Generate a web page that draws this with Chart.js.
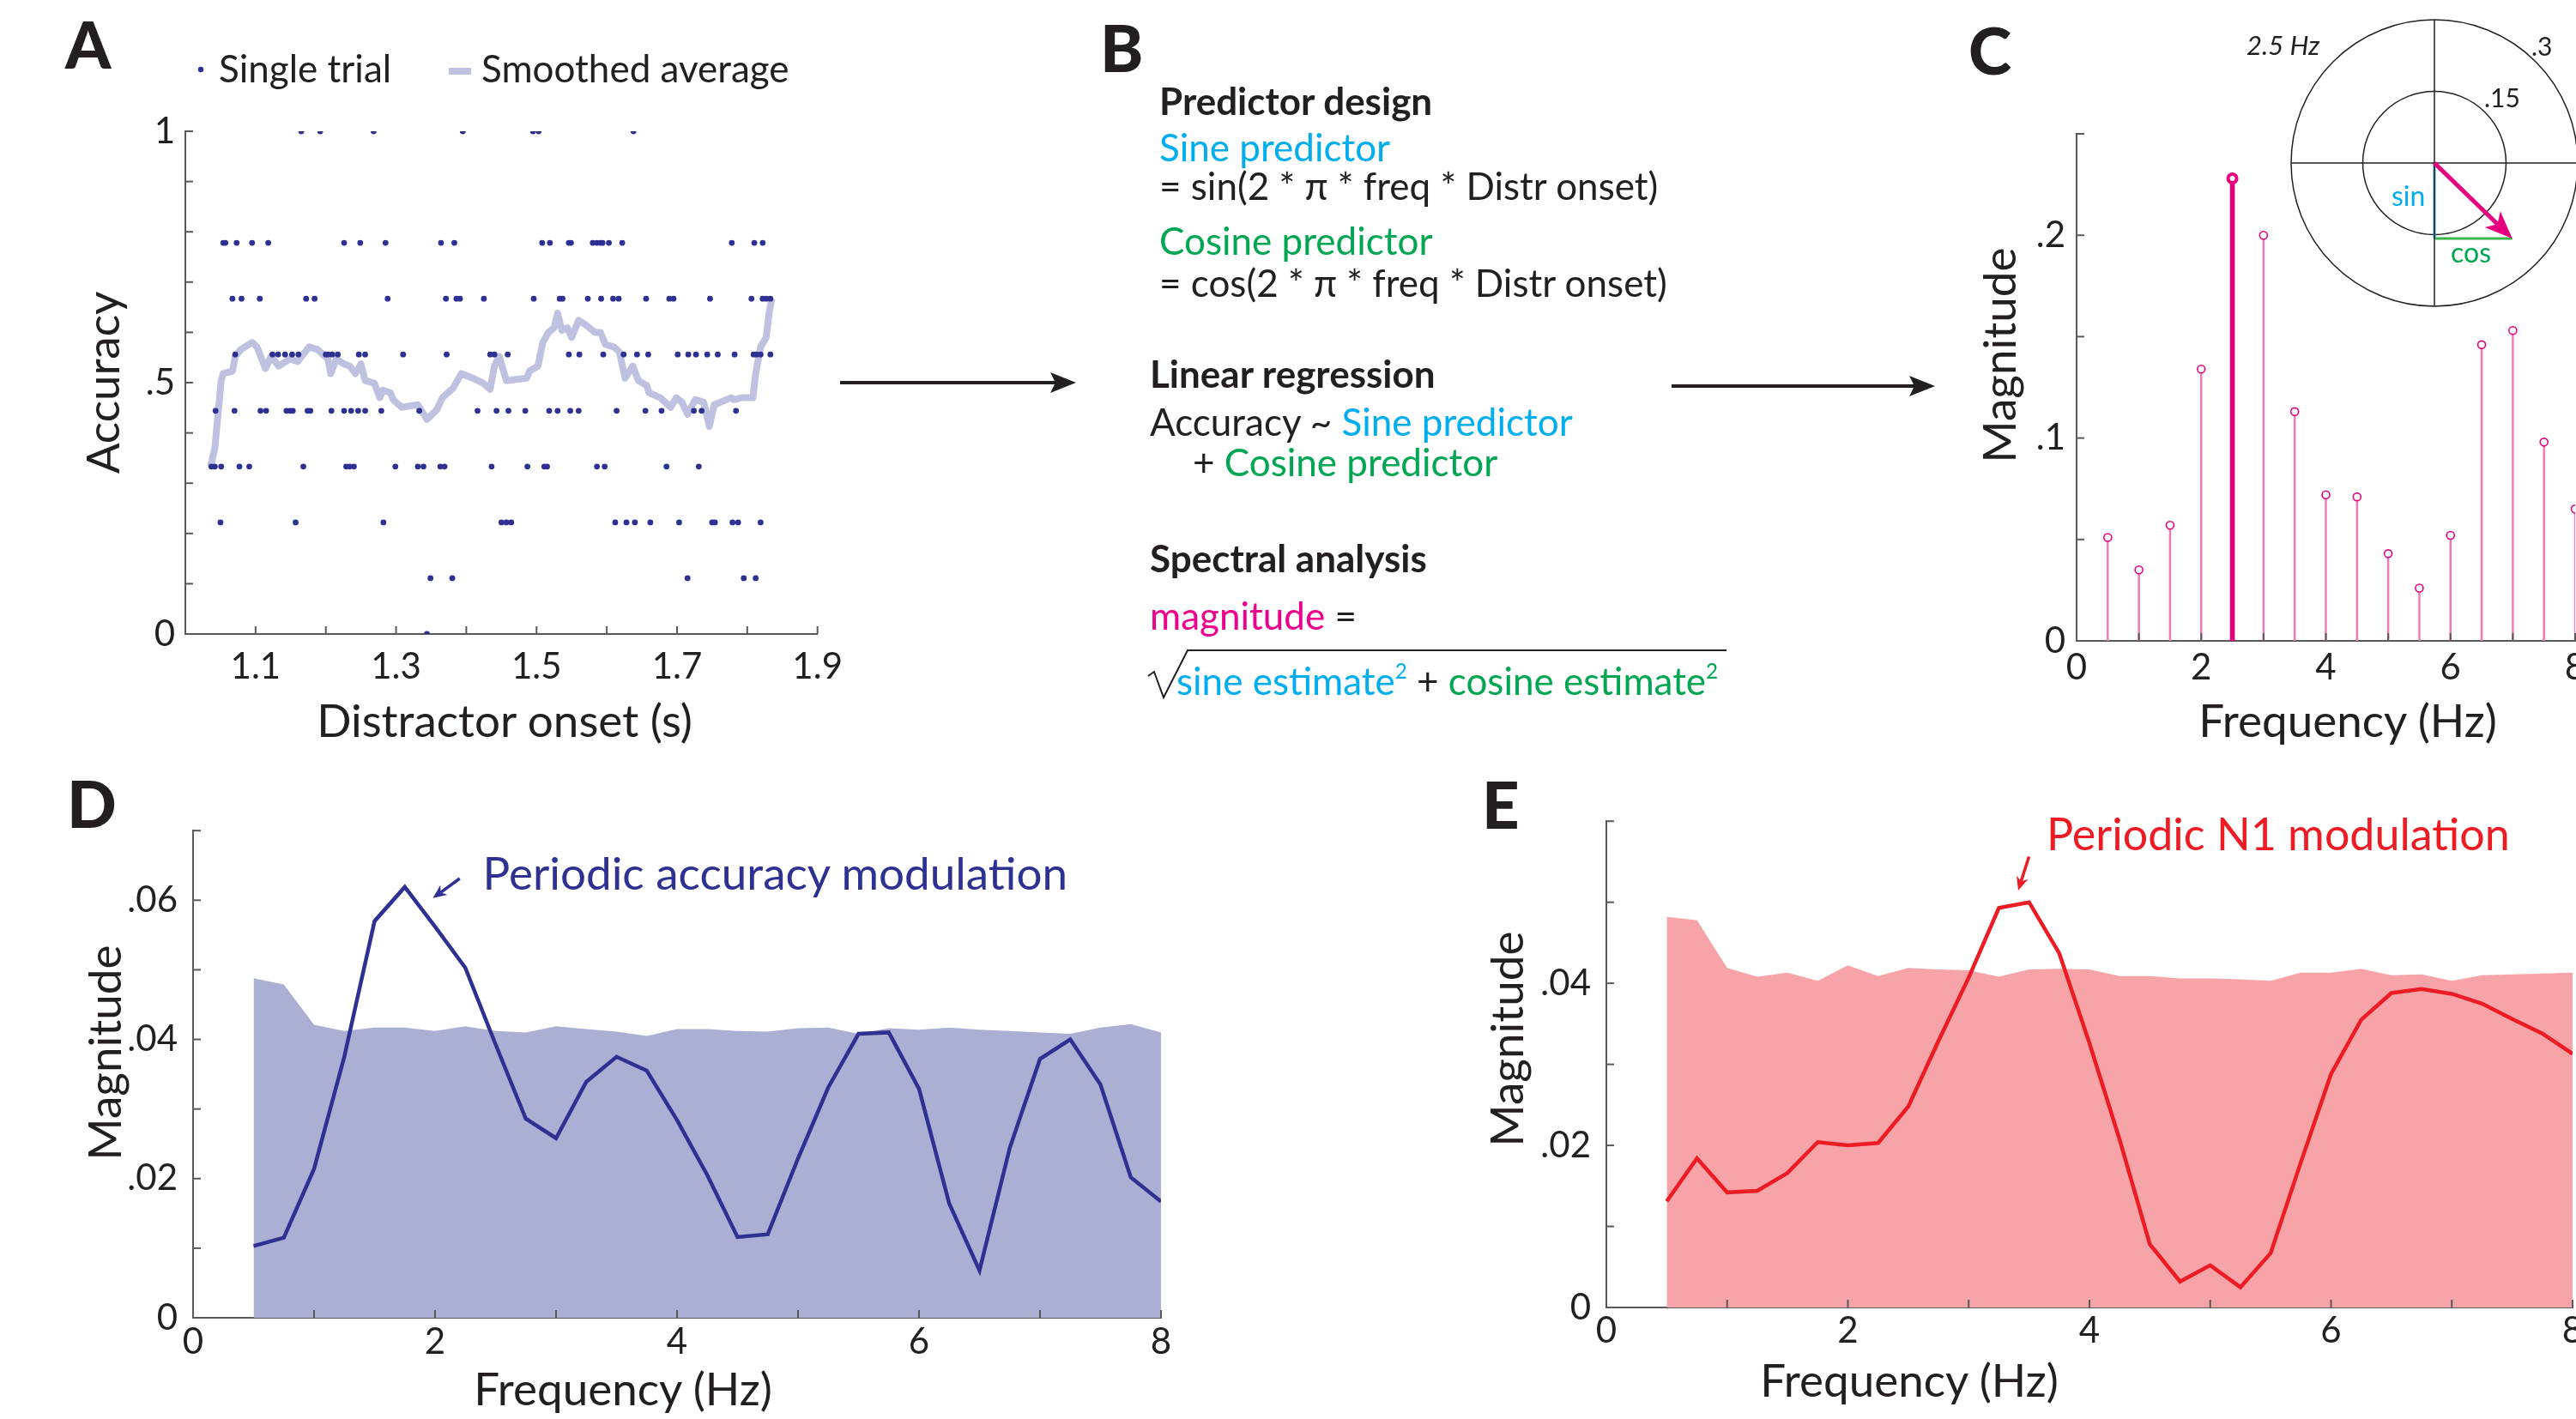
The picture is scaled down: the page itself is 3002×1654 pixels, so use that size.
<!DOCTYPE html>
<html lang="en">
<head>
<meta charset="UTF-8" />
<title>Periodic modulation of accuracy and N1</title>
<script src="https://cdn.jsdelivr.net/npm/chart.js"></script>
<style>
  html, body { margin: 0; padding: 0; background: #fff; }
  body { width: 3002px; height: 1654px; position: relative; overflow: hidden;
         font-family: Lato, 'Open Sans', sans-serif; color: #231f20; }
  canvas { position: absolute; }
  .t { position: absolute; white-space: nowrap; line-height: 1; z-index: 3; }
  .b { font-weight: 700; }
  .k { font-weight: 900; }
  .blue { color: #00aeef; }
  .green { color: #00a651; }
  .mag { color: #ec008c; }
  .sq { font-size: .55em; position: relative; top: -.8em; }
  #deco { position: absolute; left: 0; top: 0; z-index: 2; }
</style>
</head>
<body>
<canvas id="chartA" width="899" height="706" style="left:96px;top:113px"></canvas>
<canvas id="chartC" width="741" height="711" style="left:2300px;top:116px"></canvas>
<canvas id="chartInset" width="350" height="350" style="left:2662px;top:15px"></canvas>
<canvas id="chartD" width="1288" height="691" style="left:105px;top:925px"></canvas>
<canvas id="chartE" width="1286" height="690" style="left:1752px;top:914px"></canvas>

<svg id="deco" width="3002" height="1654">
  <!-- legend keys of panel A -->
  <circle cx="234" cy="81" r="3.2" fill="#2e3192"/>
  <rect x="523" y="79" width="26" height="8" fill="#bec1e0"/>
  <!-- A -> B -> C arrows -->
  <line x1="979" y1="446" x2="1232" y2="446" stroke="#231f20" stroke-width="4"/>
  <polygon points="1254,446 1224,434 1230,446 1224,458" fill="#231f20"/>
  <line x1="1948" y1="450" x2="2233" y2="450" stroke="#231f20" stroke-width="4"/>
  <polygon points="2255,450 2225,438 2231,450 2225,462" fill="#231f20"/>
  <!-- square root sign -->
  <polyline points="1338,788 1345,783 1356,813 1384,758 2012,758" fill="none" stroke="#231f20" stroke-width="2"/>
  <!-- annotation arrows -->
  <line x1="535.7" y1="1024" x2="513.4" y2="1040.3" stroke="#2e3192" stroke-width="3.5"/>
  <polygon points="504.5,1046.8 521.5,1043 513.4,1040.3 513.3,1031.6" fill="#2e3192"/>
  <line x1="2364.5" y1="998.5" x2="2355.3" y2="1027.5" stroke="#ed1c24" stroke-width="3.5"/>
  <polygon points="2352,1038 2363.5,1024.8 2355.3,1027.5 2350.1,1020.6" fill="#ed1c24"/>
</svg>

<script>
// ---------- data: panel A (single trials grouped by accuracy level) ----------
const accuracyLevels = [1, 0.778, 0.667, 0.556, 0.444, 0.333, 0.222, 0.111, 0];
const onsetAcc100 = [1.165, 1.192, 1.268, 1.395, 1.495, 1.503, 1.638];
const onsetAcc78 = [1.054, 1.057, 1.073, 1.095, 1.118, 1.226, 1.249, 1.285, 1.364, 1.383, 1.508, 1.519,
  1.546, 1.549, 1.580, 1.586, 1.591, 1.594, 1.603, 1.622, 1.778, 1.810, 1.822];
const onsetAcc67 = [1.067, 1.080, 1.106, 1.172, 1.184, 1.288, 1.371, 1.386, 1.391, 1.425, 1.496, 1.533,
  1.537, 1.573, 1.592, 1.609, 1.617, 1.656, 1.689, 1.695, 1.747, 1.806, 1.822, 1.827, 1.833];
const onsetAcc56 = [1.071, 1.124, 1.132, 1.142, 1.152, 1.161, 1.200, 1.203, 1.209, 1.217, 1.247, 1.256,
  1.310, 1.372, 1.434, 1.440, 1.459, 1.546, 1.561, 1.595, 1.624, 1.643, 1.659, 1.701, 1.716, 1.727,
  1.743, 1.758, 1.782, 1.809, 1.813, 1.819, 1.833];
const onsetAcc44 = [1.043, 1.070, 1.107, 1.115, 1.144, 1.149, 1.153, 1.174, 1.178, 1.208, 1.226, 1.236,
  1.246, 1.256, 1.279, 1.333, 1.416, 1.443, 1.460, 1.484, 1.518, 1.530, 1.548, 1.560, 1.614, 1.655,
  1.678, 1.724, 1.735, 1.784];
const onsetAcc33 = [1.037, 1.042, 1.051, 1.077, 1.091, 1.168, 1.229, 1.234, 1.240, 1.299, 1.331, 1.339,
  1.363, 1.369, 1.436, 1.487, 1.511, 1.515, 1.586, 1.597, 1.685, 1.731];
const onsetAcc22 = [1.050, 1.157, 1.282, 1.450, 1.457, 1.464, 1.612, 1.628, 1.640, 1.662, 1.703, 1.750,
  1.754, 1.779, 1.787, 1.819];
const onsetAcc11 = [1.349, 1.380, 1.715, 1.795, 1.812];
const onsetAcc0 = [1.344];

// smoothed average
const smoothOnset = [1.036, 1.042, 1.051, 1.054, 1.067, 1.071, 1.079, 1.095, 1.102, 1.114, 1.122, 1.133,
  1.149, 1.160, 1.176, 1.188, 1.203, 1.207, 1.215, 1.226, 1.234, 1.242, 1.250, 1.256, 1.269, 1.277,
  1.281, 1.292, 1.296, 1.308, 1.331, 1.344, 1.358, 1.366, 1.381, 1.393, 1.409, 1.424, 1.434, 1.440,
  1.447, 1.457, 1.486, 1.490, 1.502, 1.509, 1.517, 1.525, 1.530, 1.536, 1.544, 1.550, 1.560, 1.571,
  1.583, 1.591, 1.598, 1.610, 1.618, 1.626, 1.637, 1.645, 1.657, 1.660, 1.676, 1.691, 1.699, 1.707,
  1.715, 1.726, 1.738, 1.746, 1.753, 1.777, 1.781, 1.792, 1.808, 1.812, 1.819, 1.827, 1.831, 1.835];
const smoothAcc = [0.333, 0.370, 0.504, 0.518, 0.523, 0.552, 0.566, 0.580, 0.571, 0.528, 0.552, 0.533,
  0.547, 0.542, 0.571, 0.566, 0.547, 0.518, 0.547, 0.537, 0.533, 0.518, 0.537, 0.504, 0.499, 0.470,
  0.485, 0.480, 0.466, 0.451, 0.456, 0.427, 0.446, 0.470, 0.489, 0.518, 0.509, 0.499, 0.487, 0.533,
  0.552, 0.504, 0.509, 0.523, 0.533, 0.580, 0.600, 0.609, 0.638, 0.604, 0.609, 0.590, 0.624, 0.614,
  0.600, 0.600, 0.576, 0.571, 0.561, 0.509, 0.533, 0.504, 0.494, 0.480, 0.470, 0.451, 0.470, 0.461,
  0.437, 0.466, 0.461, 0.413, 0.456, 0.470, 0.466, 0.470, 0.470, 0.518, 0.571, 0.590, 0.638, 0.667];

const accTicks = [0, 0.5, 1];
const onsetTicks = [1.1, 1.3, 1.5, 1.7, 1.9];

// ---------- data: panel C (spectrum of the regression magnitudes) ----------
const stemFreq = [0.5, 1, 1.5, 2, 2.5, 3, 3.5, 4, 4.5, 5, 5.5, 6, 6.5, 7, 7.5, 8];
const stemMag = [0.051, 0.035, 0.057, 0.134, 0.228, 0.200, 0.113, 0.072, 0.071, 0.043, 0.026, 0.052,
  0.146, 0.153, 0.098, 0.065];
const peakFreq = 2.5;
const magTicksC = [0, 0.1, 0.2];
const freqTicks = [0, 2, 4, 6, 8];

// inset: sine / cosine estimates at 2.5 Hz
const sineEst = -0.158;
const cosineEst = 0.163;
const polarRings = [0.15, 0.3];

// ---------- data: panels D and E ----------
const specFreq = [0.5, 0.75, 1, 1.25, 1.5, 1.75, 2, 2.25, 2.5, 2.75, 3, 3.25, 3.5, 3.75, 4, 4.25, 4.5,
  4.75, 5, 5.25, 5.5, 5.75, 6, 6.25, 6.5, 6.75, 7, 7.25, 7.5, 7.75, 8];
const accMag = [0.0103, 0.0115, 0.0214, 0.0375, 0.0570, 0.0619, 0.0562, 0.0503, 0.0393, 0.0286, 0.0258,
  0.0339, 0.0375, 0.0355, 0.0284, 0.0205, 0.0116, 0.0120, 0.0229, 0.0331, 0.0408, 0.0410, 0.0329,
  0.0164, 0.0068, 0.0244, 0.0372, 0.0400, 0.0335, 0.0202, 0.0167];
const accThreshold = [0.0488, 0.0479, 0.0421, 0.0412, 0.0417, 0.0417, 0.0412, 0.0419, 0.0412, 0.0410,
  0.0419, 0.0415, 0.0411, 0.0405, 0.0415, 0.0415, 0.0412, 0.0411, 0.0416, 0.0417, 0.0408, 0.0416,
  0.0414, 0.0417, 0.0414, 0.0412, 0.0410, 0.0408, 0.0417, 0.0422, 0.0410];
const n1Mag = [0.0131, 0.0184, 0.0142, 0.0144, 0.0166, 0.0204, 0.0200, 0.0203, 0.0248, 0.0329, 0.0407,
  0.0493, 0.0500, 0.0437, 0.0326, 0.0207, 0.0078, 0.0032, 0.0052, 0.0025, 0.0067, 0.0179, 0.0288,
  0.0355, 0.0388, 0.0393, 0.0387, 0.0375, 0.0356, 0.0338, 0.0313];
const n1Threshold = [0.0482, 0.0478, 0.0419, 0.0408, 0.0413, 0.0403, 0.0422, 0.0409, 0.0419, 0.0417,
  0.0416, 0.0408, 0.0417, 0.0418, 0.0417, 0.0409, 0.0409, 0.0406, 0.0406, 0.0405, 0.0403, 0.0413,
  0.0413, 0.0418, 0.0410, 0.0411, 0.0403, 0.0410, 0.0411, 0.0412, 0.0413];
const magTicksD = [0, 0.02, 0.04, 0.06];
const magTicksE = [0, 0.02, 0.04];

// ---------- helpers ----------
const FONT = "Lato, 'Open Sans', sans-serif";
const INK = '#231f20';
const AXIS = '#58595b';
const NAVY = '#2e3192';
const RED = '#ed1c24';
const MAGENTA = '#e6007e';
Chart.defaults.font.family = FONT;

function fmtTick(v) {
  if (Math.abs(v) < 1e-9) return '0';
  return String(parseFloat(v.toFixed(3))).replace(/^0\./, '.');
}

function linAxis(min, max, step, labels, pad, fit) {
  return {
    type: 'linear', min, max, offset: false, z: 1,
    grid: { display: false, drawTicks: false },
    border: { display: true, color: AXIS, width: 2 },
    ticks: {
      stepSize: step, autoSkip: false, maxRotation: 0, minRotation: 0, padding: pad,
      color: INK, font: { family: FONT, size: 42 },
      callback: v => labels.some(t => Math.abs(t - v) < 1e-6) ? fmtTick(v) : ''
    },
    afterFit: fit
  };
}
const yFit = s => { s.width = 120; };
const xFit = s => { s.height = 80; };

// MATLAB style tick marks pointing into the plot
const inwardTicks = {
  id: 'inwardTicks',
  afterDraw(chart) {
    const { ctx, scales } = chart;
    const len = 9;
    ctx.save();
    ctx.strokeStyle = AXIS;
    ctx.lineWidth = 2;
    scales.x.ticks.forEach(t => {
      const p = scales.x.getPixelForValue(t.value);
      ctx.beginPath(); ctx.moveTo(p, scales.x.top); ctx.lineTo(p, scales.x.top - len); ctx.stroke();
    });
    scales.y.ticks.forEach(t => {
      const p = scales.y.getPixelForValue(t.value);
      ctx.beginPath(); ctx.moveTo(scales.y.right, p); ctx.lineTo(scales.y.right + len, p); ctx.stroke();
    });
    ctx.restore();
  }
};

function baseOptions(xAxis, yAxis) {
  return {
    responsive: false, animation: false, devicePixelRatio: 1,
    layout: { padding: { top: 40, right: 40, left: 0, bottom: 0 } },
    scales: { x: xAxis, y: yAxis },
    plugins: { legend: { display: false }, tooltip: { enabled: false } }
  };
}

// ---------- panel A ----------
const trialGroups = [onsetAcc100, onsetAcc78, onsetAcc67, onsetAcc56, onsetAcc44, onsetAcc33,
  onsetAcc22, onsetAcc11, onsetAcc0];
const trialPts = [];
trialGroups.forEach((onsets, i) => onsets.forEach(x => trialPts.push({ x, y: accuracyLevels[i] })));

new Chart(document.getElementById('chartA'), {
  type: 'scatter',
  data: {
    datasets: [
      { label: 'Single trial', data: trialPts, pointRadius: 3.4, pointBorderWidth: 0,
        pointBackgroundColor: NAVY, order: 0 },
      { label: 'Smoothed average', data: smoothOnset.map((x, i) => ({ x, y: smoothAcc[i] })),
        showLine: true, borderColor: '#bec1e0', borderWidth: 8, pointRadius: 0,
        borderJoinStyle: 'round', order: 1 }
    ]
  },
  options: baseOptions(linAxis(1.0, 1.9, 0.1, onsetTicks, 13, xFit),
                       linAxis(0, 1, 0.1, accTicks, 12, yFit)),
  plugins: [inwardTicks]
});

// ---------- panel C ----------
const stemPts = stemFreq.map((x, i) => ({ x, y: stemMag[i] }));
const peakPts = stemPts.filter(p => p.x === peakFreq);
const otherPts = stemPts.filter(p => p.x !== peakFreq);

new Chart(document.getElementById('chartC'), {
  type: 'bar',
  data: {
    datasets: [
      { type: 'scatter', data: otherPts, pointRadius: 4.5, pointBorderWidth: 1.6,
        pointBorderColor: MAGENTA, pointBackgroundColor: '#fff', order: 1 },
      { type: 'scatter', data: peakPts, pointRadius: 5, pointBorderWidth: 4,
        pointBorderColor: MAGENTA, pointBackgroundColor: '#fff', order: 0 },
      { type: 'bar', data: otherPts, barThickness: 1.8, backgroundColor: '#f27ab4',
        grouped: false, order: 3 },
      { type: 'bar', data: peakPts, barThickness: 5, backgroundColor: MAGENTA,
        grouped: false, order: 2 }
    ]
  },
  options: baseOptions(linAxis(0, 8, 1, freqTicks, 6, xFit),
                       linAxis(0, 0.25, 0.05, magTicksC, 13, yFit)),
  plugins: [inwardTicks]
});

// ---------- inset: phasor at 2.5 Hz ----------
const ringMax = polarRings[polarRings.length - 1];
const polarGrid = {
  id: 'polarGrid',
  beforeDatasetsDraw(chart) {
    const { ctx, scales: { x, y } } = chart;
    const cx = x.getPixelForValue(0), cy = y.getPixelForValue(0);
    ctx.save();
    ctx.strokeStyle = INK;
    ctx.lineWidth = 1.5;
    polarRings.forEach(r => {
      ctx.beginPath();
      ctx.arc(cx, cy, x.getPixelForValue(r) - cx, 0, Math.PI * 2);
      ctx.stroke();
    });
    ctx.restore();
  },
  afterDatasetsDraw(chart) {
    const { ctx, scales: { x, y } } = chart;
    const x0 = x.getPixelForValue(0), y0 = y.getPixelForValue(0);
    const x1 = x.getPixelForValue(cosineEst), y1 = y.getPixelForValue(sineEst);
    const ang = Math.atan2(y1 - y0, x1 - x0);
    const head = 32, half = 13, notch = 24;
    ctx.save();
    ctx.strokeStyle = MAGENTA;
    ctx.fillStyle = MAGENTA;
    ctx.lineWidth = 5;
    ctx.beginPath();
    ctx.moveTo(x0, y0);
    ctx.lineTo(x1 - notch * Math.cos(ang), y1 - notch * Math.sin(ang));
    ctx.stroke();
    ctx.beginPath();
    ctx.moveTo(x1, y1);
    ctx.lineTo(x1 - head * Math.cos(ang) + half * Math.sin(ang), y1 - head * Math.sin(ang) - half * Math.cos(ang));
    ctx.lineTo(x1 - notch * Math.cos(ang), y1 - notch * Math.sin(ang));
    ctx.lineTo(x1 - head * Math.cos(ang) - half * Math.sin(ang), y1 - head * Math.sin(ang) + half * Math.cos(ang));
    ctx.closePath();
    ctx.fill();
    ctx.restore();
  }
};

const seg = (pts, color, width) => ({ data: pts, showLine: true, borderColor: color,
  borderWidth: width, pointRadius: 0, borderCapStyle: 'butt' });

new Chart(document.getElementById('chartInset'), {
  type: 'scatter',
  data: {
    datasets: [
      seg([{ x: -ringMax, y: 0 }, { x: ringMax, y: 0 }], INK, 1.5),
      seg([{ x: 0, y: -ringMax }, { x: 0, y: ringMax }], INK, 1.5),
      seg([{ x: 0, y: 0 }, { x: 0, y: sineEst }], '#29abe2', 3),
      seg([{ x: 0, y: sineEst }, { x: cosineEst, y: sineEst }], '#39b54a', 3)
    ]
  },
  options: {
    responsive: false, animation: false, devicePixelRatio: 1,
    layout: { padding: 8 },
    scales: {
      x: { type: 'linear', display: false, min: -ringMax, max: ringMax },
      y: { type: 'linear', display: false, min: -ringMax, max: ringMax }
    },
    plugins: { legend: { display: false }, tooltip: { enabled: false } }
  },
  plugins: [polarGrid]
});

// ---------- panels D and E ----------
function spectrumChart(id, mags, thr, lineColor, fillColor, yMax, magTicks, yPad, xPad) {
  new Chart(document.getElementById(id), {
    type: 'line',
    data: {
      datasets: [
        { data: specFreq.map((x, i) => ({ x, y: mags[i] })), borderColor: lineColor, borderWidth: 4.5,
          pointRadius: 0, tension: 0, fill: false, order: 0 },
        { data: specFreq.map((x, i) => ({ x, y: thr[i] })), borderWidth: 0, borderColor: fillColor,
          backgroundColor: fillColor, pointRadius: 0, tension: 0, fill: 'origin', order: 1 }
      ]
    },
    options: baseOptions(linAxis(0, 8, 1, freqTicks, xPad, xFit),
                         linAxis(0, yMax, 0.01, magTicks, yPad, yFit)),
    plugins: [inwardTicks]
  });
}
spectrumChart('chartD', accMag, accThreshold, NAVY, '#abafd4', 0.07, magTicksD, 18, 3);
spectrumChart('chartE', n1Mag, n1Threshold, RED, '#f6a4a7', 0.06, magTicksE, 18, 2);

// ---------- text ----------
function putText(html, x, baseline, size, cls = '', center = false) {
  const d = document.createElement('div');
  d.className = 't ' + cls;
  d.innerHTML = html;
  d.style.fontSize = size + 'px';
  d.style.left = x + 'px';
  d.style.top = (baseline - 0.887 * size) + 'px';
  if (center) d.style.transform = 'translateX(-50%)';
  document.body.appendChild(d);
  return d;
}
function putVertical(text, baselineX, centerY, size) {
  const d = document.createElement('div');
  d.className = 't';
  d.textContent = text;
  d.style.fontSize = size + 'px';
  d.style.left = (baselineX - 0.387 * size) + 'px';
  d.style.top = centerY + 'px';
  d.style.transform = 'translate(-50%, -50%) rotate(-90deg)';
  document.body.appendChild(d);
}

// panel letters
putText('A', 76, 80, 76, 'k');
putText('B', 1282, 84, 76, 'k');
putText('C', 2294, 87, 76, 'k');
putText('D', 78, 965, 76, 'k');
putText('E', 1727, 966, 76, 'k');

// panel A
putText('Single trial', 255, 96.5, 44);
putText('Smoothed average', 561, 96.5, 44);
putText('Distractor onset (s)', 588, 858.6, 53, '', true);
putVertical('Accuracy', 139, 445.5, 53);

// panel B
const BS = 44;
putText('Predictor design', 1351, 134, BS, 'b');
putText('Sine predictor', 1351, 187.6, BS, 'blue');
putText('= sin(2 * π * freq * Distr onset)', 1351, 233.5, BS);
putText('Cosine predictor', 1351, 297, BS, 'green');
putText('= cos(2 * π * freq * Distr onset)', 1351, 345.7, BS);
putText('Linear regression', 1340, 451.8, BS, 'b');
putText('Accuracy ~ <span class="blue">Sine predictor</span>', 1340, 508, BS);
putText('+ <span class="green">Cosine predictor</span>', 1390, 554.9, BS);
putText('Spectral analysis', 1340, 667, BS, 'b');
putText('<span class="mag">magnitude</span> =', 1340, 734.5, BS);
putText('<span class="blue">sine estimate<span class="sq">2</span></span> + ' +
        '<span class="green">cosine estimate<span class="sq">2</span></span>', 1371, 810, BS);

// panel C
putText('Frequency (Hz)', 2736, 859.5, 53, '', true);
putVertical('Magnitude', 2349, 414, 53);
putText('<i>2.5 Hz</i>', 2618, 64.4, 31);
putText('.3', 2950, 65, 30);
putText('.15', 2895, 125, 30);
putText('sin', 2787, 240, 32, 'blue');
putText('cos', 2856, 306.7, 32, 'green');

// panels D and E
putText('Frequency (Hz)', 726, 1637.6, 53, '', true);
putVertical('Magnitude', 141, 1226.7, 53);
putText('Periodic accuracy modulation', 562.5, 1037, 53).style.color = NAVY;
putText('Frequency (Hz)', 2225, 1627.8, 53, '', true);
putVertical('Magnitude', 1774.8, 1210.7, 53);
putText('Periodic N1 modulation', 2385, 991, 52).style.color = RED;
</script>
</body>
</html>
